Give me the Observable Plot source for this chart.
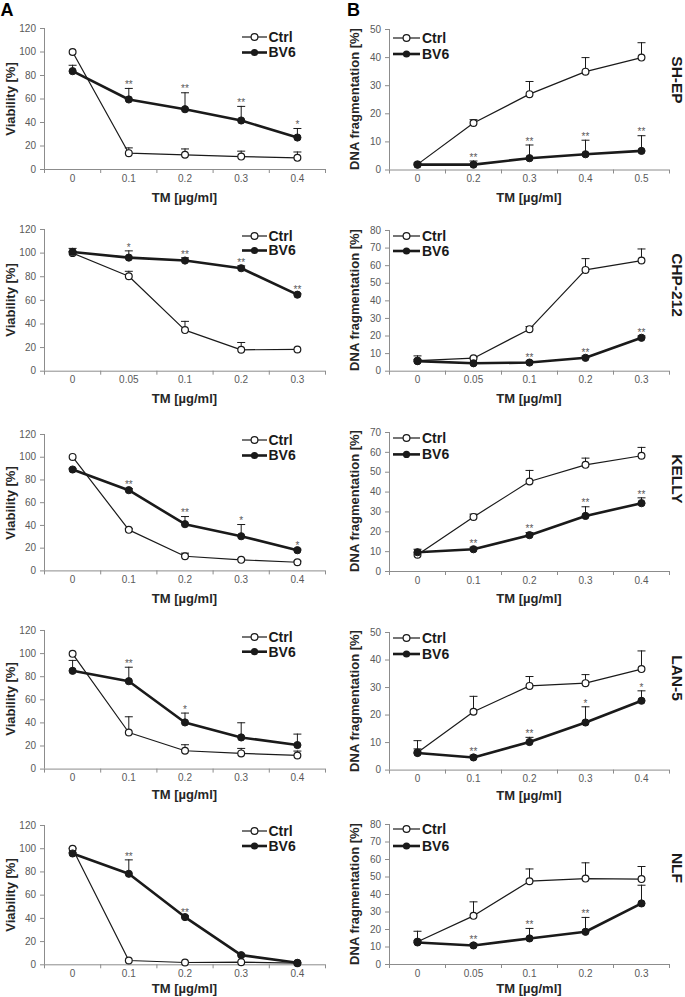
<!DOCTYPE html>
<html><head><meta charset="utf-8">
<script src="https://cdn.jsdelivr.net/npm/d3@7"></script>
<script src="https://cdn.jsdelivr.net/npm/@observablehq/plot@0.6"></script>
<style>
body{margin:0;background:#fff;}
#root{position:relative;width:685px;height:997px;overflow:hidden;font-family:"Liberation Sans",Arial,Helvetica,sans-serif;}
.abs{position:absolute;white-space:nowrap;line-height:1;}
.ttl{font-weight:bold;font-size:13px;color:#262626;}
.cell{font-weight:bold;font-size:15.5px;color:#1a1a1a;}
.pl{font-weight:bold;font-size:18px;color:#000;}
</style></head><body><div id="root"></div><script>
// ---------- DATA ----------
const dosesA = ["0", "0.1", "0.2", "0.3", "0.4"];
const dosesSHEPdna = ["0", "0.2", "0.3", "0.4", "0.5"];
const dosesCHP = ["0", "0.05", "0.1", "0.2", "0.3"];
const dosesNLFdna = ["0", "0.05", "0.1", "0.2", "0.3"];
const cellLines = ["SH-EP", "CHP-212", "KELLY", "LAN-5", "NLF"];
const seriesNames = ["Ctrl", "BV6"];

// SH-EP
const shepViabCtrl = [100, 13.9, 12.5, 11, 9.9];
const shepViabCtrlErr = [0, 4.5, 5, 4.6, 5];
const shepViabBV6 = [83.7, 59.6, 51.3, 41.7, 27.2];
const shepViabBV6Err = [5, 9.4, 14, 12, 7.7];
const shepViabStars = ["", "**", "**", "**", "*"];
const shepDnaCtrl = [2, 16.7, 27, 35, 40];
const shepDnaCtrlErr = [0, 1.2, 4.5, 5, 5.3];
const shepDnaBV6 = [1.9, 1.9, 4.2, 5.6, 6.8];
const shepDnaBV6Err = [0.6, 1.3, 4.7, 5, 5.4];
const shepDnaStars = ["", "**", "**", "**", "**"];
// CHP-212
const chpViabCtrl = [100, 80.4, 34.8, 18.1, 18.4];
const chpViabCtrlErr = [1.5, 4.2, 7.4, 6.2, 0];
const chpViabBV6 = [101, 96.2, 93.7, 87.2, 64.8];
const chpViabBV6Err = [3, 5.7, 2.3, 2, 1];
const chpViabStars = ["", "*", "**", "**", "**"];
const chpDnaCtrl = [6, 7.4, 23.9, 57.6, 62.9];
const chpDnaCtrlErr = [2.7, 0.5, 1.5, 6.4, 6.6];
const chpDnaBV6 = [5.7, 4.5, 4.9, 7.6, 19];
const chpDnaBV6Err = [1, 0.5, 0.8, 1, 1];
const chpDnaStars = ["", "", "**", "**", "**"];
// KELLY
const kellyViabCtrl = [100.3, 36.1, 12.9, 9.7, 7.6];
const kellyViabCtrlErr = [0, 1, 2.7, 1, 1];
const kellyViabBV6 = [89.2, 71, 41.1, 30.5, 18.2];
const kellyViabBV6Err = [1, 1.5, 6.7, 10.3, 1];
const kellyViabStars = ["", "**", "**", "*", "*"];
const kellyDnaCtrl = [8.4, 27.5, 45.3, 53.7, 58.3];
const kellyDnaCtrlErr = [0, 1.4, 5.6, 3.4, 4.2];
const kellyDnaBV6 = [9.7, 11.2, 18.3, 28, 34.4];
const kellyDnaBV6Err = [1.5, 1, 1.3, 4.6, 2.7];
const kellyDnaStars = ["", "**", "**", "**", "**"];
// LAN-5
const lanViabCtrl = [99.8, 31.7, 15.9, 13.6, 11.8];
const lanViabCtrlErr = [0, 13.6, 5.2, 4.3, 3.8];
const lanViabBV6 = [85.1, 76.1, 40.4, 27.4, 20.8];
const lanViabBV6Err = [9, 12.1, 8.1, 12.7, 9.5];
const lanViabStars = ["", "**", "*", "", ""];
const lanDnaCtrl = [6.4, 21.2, 30.6, 31.6, 36.7];
const lanDnaCtrlErr = [4.3, 5.6, 3.4, 3.1, 6.6];
const lanDnaBV6 = [6.2, 4.6, 10.2, 17.3, 25.2];
const lanDnaBV6Err = [1.5, 0.8, 1.7, 5.7, 3.6];
const lanDnaStars = ["", "**", "**", "*", "*"];
// NLF
const nlfViabCtrl = [99.9, 3.7, 2, 2.3, 1.4];
const nlfViabCtrlErr = [0.5, 0, 0, 0, 0];
const nlfViabBV6 = [95.9, 78.4, 41.1, 8.3, 1.7];
const nlfViabBV6Err = [1, 12, 1, 1, 0];
const nlfViabStars = ["", "**", "**", "", ""];
const nlfDnaCtrl = [13, 27.8, 47.6, 49.1, 48.8];
const nlfDnaCtrlErr = [6, 8, 7, 9, 7.2];
const nlfDnaBV6 = [12.6, 10.9, 14.9, 18.7, 34.9];
const nlfDnaBV6Err = [1, 1, 5.7, 8.2, 10.4];
const nlfDnaStars = ["", "**", "**", "**", ""];

const viabTicks = [0, 20, 40, 60, 80, 100, 120];
const dnaTicks50 = [0, 10, 20, 30, 40, 50];
const dnaTicks70 = [0, 10, 20, 30, 40, 50, 60, 70];
const dnaTicks80 = [0, 10, 20, 30, 40, 50, 60, 70, 80];

const viabTitle = "Viability [%]";
const dnaTitle = "DNA fragmentation [%]";
const xTitle = "TM [µg/ml]";

// ---------- PANELS (data references) ----------
const panels = [
  {col:0,row:0,labels:dosesA,ticks:viabTicks,ctrl:shepViabCtrl,ctrlErr:shepViabCtrlErr,bv6:shepViabBV6,bv6Err:shepViabBV6Err,stars:shepViabStars},
  {col:1,row:0,labels:dosesSHEPdna,ticks:dnaTicks50,ctrl:shepDnaCtrl,ctrlErr:shepDnaCtrlErr,bv6:shepDnaBV6,bv6Err:shepDnaBV6Err,stars:shepDnaStars},
  {col:0,row:1,labels:dosesCHP,ticks:viabTicks,ctrl:chpViabCtrl,ctrlErr:chpViabCtrlErr,bv6:chpViabBV6,bv6Err:chpViabBV6Err,stars:chpViabStars},
  {col:1,row:1,labels:dosesCHP,ticks:dnaTicks80,ctrl:chpDnaCtrl,ctrlErr:chpDnaCtrlErr,bv6:chpDnaBV6,bv6Err:chpDnaBV6Err,stars:chpDnaStars},
  {col:0,row:2,labels:dosesA,ticks:viabTicks,ctrl:kellyViabCtrl,ctrlErr:kellyViabCtrlErr,bv6:kellyViabBV6,bv6Err:kellyViabBV6Err,stars:kellyViabStars},
  {col:1,row:2,labels:dosesA,ticks:dnaTicks70,ctrl:kellyDnaCtrl,ctrlErr:kellyDnaCtrlErr,bv6:kellyDnaBV6,bv6Err:kellyDnaBV6Err,stars:kellyDnaStars},
  {col:0,row:3,labels:dosesA,ticks:viabTicks,ctrl:lanViabCtrl,ctrlErr:lanViabCtrlErr,bv6:lanViabBV6,bv6Err:lanViabBV6Err,stars:lanViabStars},
  {col:1,row:3,labels:dosesA,ticks:dnaTicks50,ctrl:lanDnaCtrl,ctrlErr:lanDnaCtrlErr,bv6:lanDnaBV6,bv6Err:lanDnaBV6Err,stars:lanDnaStars},
  {col:0,row:4,labels:dosesA,ticks:viabTicks,ctrl:nlfViabCtrl,ctrlErr:nlfViabCtrlErr,bv6:nlfViabBV6,bv6Err:nlfViabBV6Err,stars:nlfViabStars},
  {col:1,row:4,labels:dosesNLFdna,ticks:dnaTicks80,ctrl:nlfDnaCtrl,ctrlErr:nlfDnaCtrlErr,bv6:nlfDnaBV6,bv6Err:nlfDnaBV6Err,stars:nlfDnaStars}
];

// ---------- LAYOUT ----------
const plotTop    = [[28.3, 229.3, 434.3, 629.7, 825.0], [28.5, 230.0, 431.7, 631.7, 824.3]];
const plotBottom = [[169.3, 371.0, 570.7, 768.3, 964.3], [169.0, 370.7, 570.7, 769.3, 964.3]];
const xTitleOffset = [28, 27, 27, 26, 24];
const colLayout = [
  {left:0, width:340, ml:44, mr:15, yTitleX:10, legLine:[242, 267], legText:268.5},
  {left:340, width:345, ml:49, mr:16, yTitleX:354, legLine:[393, 420], legText:422}
];
const legendDy = [[8.5, 24], [9, 25], [7, 21.5], [5.5, 20.5], [5.5, 21], [6.6, 23], [7.3, 22], [6.6, 22.6], [5.7, 20.7], [5, 22]];
const cellLabelY = [80, 285, 479, 678, 868];
const AXIS = "#8c8c8c", INK = "#1a1a1a", TICKTXT = "#595959";
const FONT = '"Liberation Sans", Arial, Helvetica, sans-serif';

const root = document.getElementById("root");
function addDiv(cls, text, x, y, rot) {
  const d = document.createElement("div");
  d.className = "abs " + cls;
  d.textContent = text;
  d.style.left = x + "px";
  d.style.top = y + "px";
  d.style.transform = "translate(-50%,-50%)" + (rot ? ` rotate(${rot}deg)` : "");
  root.appendChild(d);
}

const capSymbol = {draw(ctx, size) { const r = Math.sqrt(size / Math.PI); ctx.moveTo(-r, 0); ctx.lineTo(r, 0); }};

panels.forEach((p, k) => {
  const L = colLayout[p.col];
  const top = plotTop[p.col][p.row], bottom = plotBottom[p.col][p.row];
  const n = p.labels.length;
  const mk = (vals, errs, stars) => vals.map((v, i) => ({i, v, err: errs[i], top: v + errs[i], star: stars ? stars[i] : ""}));
  const C = mk(p.ctrl, p.ctrlErr), B = mk(p.bv6, p.bv6Err, p.stars);
  const ymax = p.ticks[p.ticks.length - 1];
  const mt = 8, mb = 22;
  const svg = Plot.plot({
    width: L.width, height: (bottom - top) + mt + mb,
    marginLeft: L.ml, marginRight: L.mr, marginTop: mt, marginBottom: mb,
    style: {color: TICKTXT, fontSize: "10px", fontFamily: FONT, background: "transparent", overflow: "visible"},
    x: {domain: [-0.5, n - 0.5], label: null},
    y: {domain: [0, ymax], label: null},
    marks: [
      Plot.axisY(p.ticks, {tickSize: 4, tickPadding: 4.5, stroke: AXIS, label: null}),
      Plot.axisX(d3.range(n + 1).map(i => i - 0.5), {tickSize: 4, tickFormat: () => "", stroke: AXIS, label: null}),
      Plot.axisX(d3.range(n), {tickSize: 0, tickPadding: 5, tickFormat: i => p.labels[i], label: null}),
      Plot.ruleY([0], {stroke: AXIS}),
      Plot.ruleX([-0.5], {stroke: AXIS}),
      Plot.ruleX(C.filter(d => d.err > 0.3), {x: "i", y1: "v", y2: "top", stroke: INK, strokeWidth: 1}),
      Plot.dot(C.filter(d => d.err > 0.3), {x: "i", y: "top", symbol: capSymbol, r: 4, stroke: INK, strokeWidth: 1}),
      Plot.line(C, {x: "i", y: "v", stroke: INK, strokeWidth: 1.2}),
      Plot.dot(C, {x: "i", y: "v", r: 3.4, fill: "white", stroke: INK, strokeWidth: 1.2}),
      Plot.ruleX(B.filter(d => d.err > 0.3), {x: "i", y1: "v", y2: "top", stroke: INK, strokeWidth: 1}),
      Plot.dot(B.filter(d => d.err > 0.3), {x: "i", y: "top", symbol: capSymbol, r: 4, stroke: INK, strokeWidth: 1}),
      Plot.line(B, {x: "i", y: "v", stroke: INK, strokeWidth: 2.6}),
      Plot.dot(B, {x: "i", y: "v", r: 3.6, fill: INK, stroke: INK, strokeWidth: 1}),
      Plot.text(B.filter(d => d.star), {x: "i", y: "top", text: "star", dy: -3.5, fontSize: 10, fill: TICKTXT})
    ]
  });
  svg.style.position = "absolute";
  svg.style.left = L.left + "px";
  svg.style.top = (top - mt) + "px";
  root.appendChild(svg);

  // axis titles
  addDiv("ttl", p.col === 0 ? viabTitle : dnaTitle, L.yTitleX, (top + bottom) / 2, -90);
  const cx = L.left + L.ml + (L.width - L.ml - L.mr) / 2;
  addDiv("ttl", xTitle, cx, bottom + xTitleOffset[p.row]);

  // legend
  const [x0, x1] = L.legLine, xt = L.legText;
  const [d1, d2] = legendDy[k];
  const ly = top + d1 - 10;
  const w = 80, h = (d2 - d1) + 20;
  const ns = "http://www.w3.org/2000/svg";
  const lg = document.createElementNS(ns, "svg");
  lg.setAttribute("width", w); lg.setAttribute("height", h);
  lg.style.position = "absolute"; lg.style.left = x0 + "px"; lg.style.top = ly + "px"; lg.style.overflow = "visible";
  const yy = [10, 10 + (d2 - d1)];
  lg.innerHTML =
    `<line x1="0" x2="${x1 - x0}" y1="${yy[0]}" y2="${yy[0]}" stroke="${INK}" stroke-width="1.2"/>` +
    `<circle cx="${(x1 - x0) / 2}" cy="${yy[0]}" r="3.4" fill="white" stroke="${INK}" stroke-width="1.2"/>` +
    `<text x="${xt - x0}" y="${yy[0]}" dy="0.35em" font-family='${FONT}' font-weight="bold" font-size="14" fill="${INK}">${seriesNames[0]}</text>` +
    `<line x1="0" x2="${x1 - x0}" y1="${yy[1]}" y2="${yy[1]}" stroke="${INK}" stroke-width="2.6"/>` +
    `<circle cx="${(x1 - x0) / 2}" cy="${yy[1]}" r="3.6" fill="${INK}"/>` +
    `<text x="${xt - x0}" y="${yy[1]}" dy="0.35em" font-family='${FONT}' font-weight="bold" font-size="14" fill="${INK}">${seriesNames[1]}</text>`;
  root.appendChild(lg);

  if (p.col === 1) addDiv("cell", cellLines[p.row], 676.5, cellLabelY[p.row], 90);
});

addDiv("pl", "A", 7, 10);
addDiv("pl", "B", 353.5, 10);
</script></body></html>
